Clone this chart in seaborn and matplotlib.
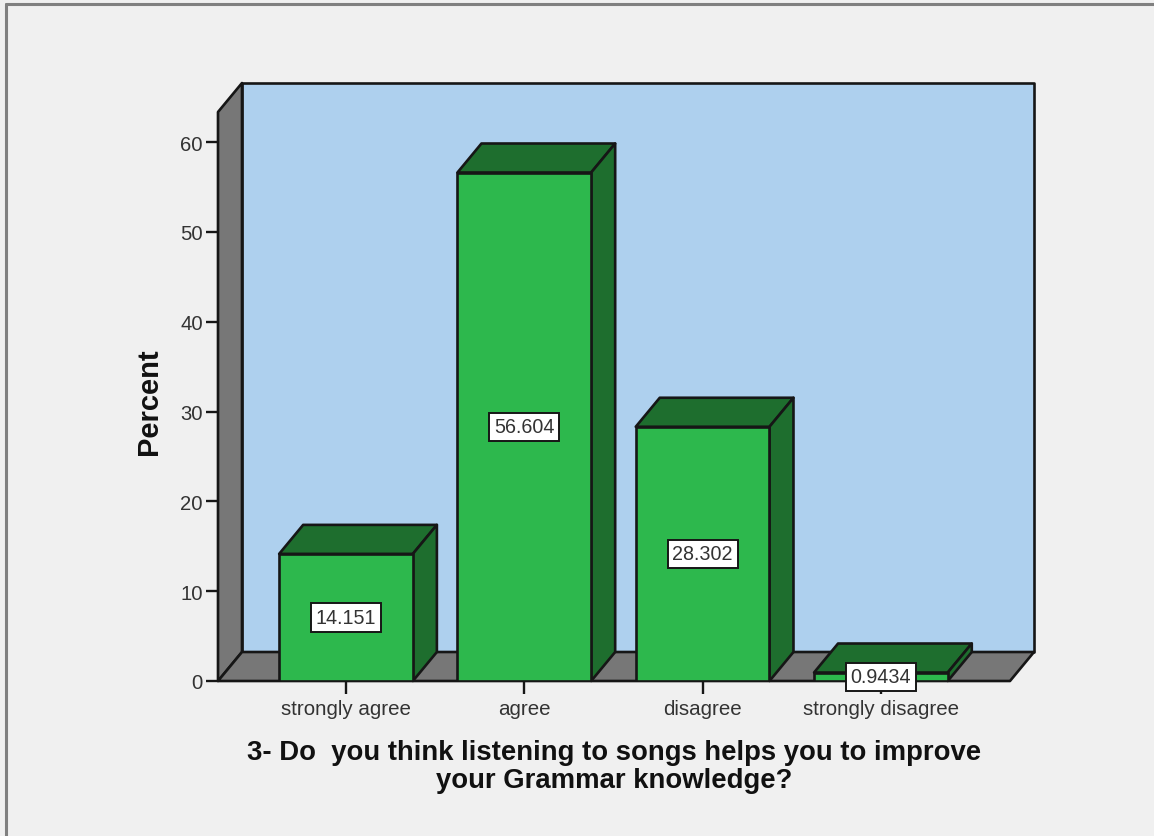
import matplotlib

matplotlib.use("Agg")

import matplotlib.pyplot as plt
import pandas as pd
import seaborn as sns
from matplotlib.lines import Line2D
from matplotlib.patches import Polygon

categories = ["strongly agree", "agree", "disagree", "strongly disagree"]
percent = [14.151, 56.604, 28.302, 0.9434]
y_ticks = [0, 10, 20, 30, 40, 50, 60]

W, H = 1154, 837
BG = "#F0F0F0"
WALL = "#777777"
BACK = "#AED0EE"
FRONT = "#2DB84D"
DARK = "#1E6E2E"
EDGE = "#161616"
LW = 1.9

sns.set_style("white")
plt.rcParams["font.family"] = ["Liberation Sans", "DejaVu Sans"]

fig = plt.figure(figsize=(W / 100, H / 100), dpi=100, facecolor=BG)
ax = fig.add_axes([218 / W, (H - 682) / H, 792 / W, 569 / H])
ax.patch.set_visible(False)

df = pd.DataFrame({"answer": categories, "percent": percent})
sns.barplot(
    data=df,
    x="answer",
    y="percent",
    order=categories,
    color=FRONT,
    saturation=1,
    width=0.75,
    edgecolor=EDGE,
    linewidth=LW,
    zorder=4,
    ax=ax,
)

xmin, xmax = -0.718, 3.724
ymin, ymax = 0, 63.34
ax.set_xlim(xmin, xmax)
ax.set_ylim(ymin, ymax)

# depth of the fake 3D box, in data units
dx = 24 / 178.3
dy = 29 / 8.983


def face(points, color, z):
    ax.add_patch(Polygon(points, closed=True, facecolor=color, edgecolor=EDGE,
                         linewidth=LW, joinstyle="round", clip_on=False, zorder=z))


# walls and floor
face([(xmin + dx, dy), (xmax + dx, dy), (xmax + dx, ymax + dy), (xmin + dx, ymax + dy)], BACK, 1)
face([(xmin, 0), (xmin + dx, dy), (xmin + dx, ymax + dy), (xmin, ymax)], WALL, 1.1)
face([(xmin, 0), (xmax, 0), (xmax + dx, dy), (xmin + dx, dy)], WALL, 1.2)

# top and side of each bar
bars = ax.containers[0]
for bar in bars:
    x0, x1, h = bar.get_x(), bar.get_x() + bar.get_width(), bar.get_height()
    face([(x0, h), (x1, h), (x1 + dx, h + dy), (x0 + dx, h + dy)], DARK, 3)
    face([(x1, 0), (x1 + dx, dy), (x1 + dx, h + dy), (x1, h)], DARK, 3)

ax.bar_label(
    bars,
    fmt="%.5g",
    label_type="center",
    fontsize=14.2,
    color="#333333",
    zorder=10,
    bbox=dict(boxstyle="square,pad=0.24", facecolor="white", edgecolor=EDGE, linewidth=1.4),
)

ax.set_yticks(y_ticks)
ax.set_xticks(range(len(categories)), categories)
ax.tick_params(axis="y", length=9, width=1.7, color=EDGE, pad=2, labelsize=14.6, labelcolor="#333333", left=True)
ax.tick_params(axis="x", length=9, width=1.7, color=EDGE, pad=4, labelsize=14.8, labelcolor="#333333", bottom=True)
ax.set_ylabel("Percent", fontsize=21, fontweight="bold", color="#111111", labelpad=12, y=0.492)
ax.set_xlabel("3- Do  you think listening to songs helps you to improve\nyour Grammar knowledge?",
              fontsize=19.8, fontweight="bold", color="#111111", labelpad=15, linespacing=1.1)
sns.despine(ax=ax, left=True, bottom=True, top=True, right=True)

# window border, top and left only
for xs, ys in [((6, W), (5, 5)), ((6, 6), (5, H))]:
    fig.add_artist(Line2D([x / W for x in xs], [1 - y / H for y in ys], color="#808080", linewidth=2.2))

fig.savefig("out.png", dpi=100, facecolor=BG)
